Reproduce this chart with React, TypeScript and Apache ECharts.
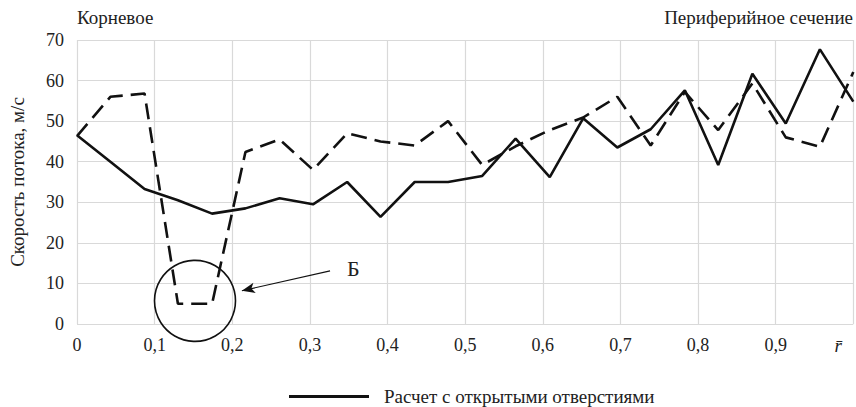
import React, { useEffect, useRef } from "react";
import * as echarts from "echarts";

const xPositions = [0, 0.043, 0.087, 0.13, 0.174, 0.217, 0.261, 0.304, 0.348, 0.391, 0.435, 0.478, 0.522, 0.565, 0.609, 0.652, 0.696, 0.739, 0.783, 0.826, 0.87, 0.913, 0.957, 1];
const openHoles = [46.5, 40, 33.3, 30.5, 27.2, 28.5, 31, 29.5, 35, 26.4, 35, 35, 36.5, 45.7, 36.2, 50.7, 43.5, 48, 57.6, 39.2, 61.7, 49.4, 67.7, 54.8];
const closedHoles = [46.3, 56, 56.8, 5, 5, 42.4, 45.5, 38, 47, 45, 44, 50, 39.2, 43.8, 47.8, 50.9, 56, 44, 57.2, 47.8, 59.3, 46, 43.7, 62.1];
const yTicks = [0, 10, 20, 30, 40, 50, 60, 70];
const openName = "Расчет с открытыми отверстиями";
const closedName = "Расчет с закрытыми отверстиями";
const rootLabel = "Корневое";
const tipLabel = "Периферийное сечение";
const yName = "Скорость потока, м/с";
const calloutLabel = "Б";
const calloutCircle = [0.152, 5.7];
const arrowFrom = [0.326, 13.1];
const arrowTo = [0.2124, 8.2];
const calloutText = [0.356, 13.7];

const FONT = "Times New Roman";

export default function App() {
  const ref = useRef<HTMLDivElement>(null);
  useEffect(() => {
    if (!ref.current) return;
    const chart = echarts.init(ref.current, undefined, { renderer: "svg" });
    const pairs = (vals: number[]) => xPositions.map((x, i) => [x, vals[i]]);
    chart.setOption({
      animation: false,
      textStyle: { fontFamily: FONT, color: "#222" },
      grid: { left: 76.7, right: 2.7, top: 40, bottom: 83 },
      legend: {
        data: [{ name: openName, icon: "rect" }],
        left: 284,
        top: 382,
        itemWidth: 80,
        itemHeight: 3,
        textStyle: { fontFamily: FONT, fontSize: 19, color: "#222", padding: [0, 0, 0, 10] },
      },
      xAxis: {
        type: "value",
        min: 0,
        max: 1,
        interval: 0.1,
        axisLine: { show: false },
        axisTick: { show: false },
        splitLine: { show: true, lineStyle: { color: "#d9d9d9", width: 1.2 } },
        axisLabel: {
          margin: 12,
          fontSize: 18,
          fontFamily: FONT,
          color: "#222",
          formatter: (v: number) => {
            if (v > 0.999) return "{r|r\u0304}";
            if (v === 0) return "0";
            return v.toFixed(1).replace(".", ",");
          },
          rich: {
            r: { fontStyle: "italic", fontSize: 19, fontFamily: FONT, color: "#222", padding: [0, 30, 0, 0] },
          },
        },
      },
      yAxis: {
        type: "value",
        min: yTicks[0],
        max: yTicks[yTicks.length - 1],
        interval: 10,
        name: yName,
        nameLocation: "middle",
        nameGap: 50,
        nameTextStyle: { fontFamily: FONT, fontSize: 19, color: "#222" },
        axisLine: { show: false },
        axisTick: { show: false },
        splitLine: { show: true, lineStyle: { color: "#d9d9d9", width: 1.2 } },
        axisLabel: { margin: 13, fontSize: 18, fontFamily: FONT, color: "#222" },
      },
      graphic: [
        { type: "text", left: 77, top: 8, style: { text: rootLabel, fontFamily: FONT, fontSize: 19, fill: "#222" } },
        { type: "text", right: 3, top: 8, style: { text: tipLabel, fontFamily: FONT, fontSize: 19, fill: "#222" } },
      ],
      series: [
        {
          name: openName,
          type: "line",
          data: pairs(openHoles),
          symbol: "none",
          lineStyle: { color: "#111", width: 2.6, type: "solid" },
          itemStyle: { color: "#111" },
          z: 3,
          markPoint: {
            silent: true,
            data: [
              {
                coord: calloutCircle,
                symbol: "circle",
                symbolSize: 81,
                itemStyle: { color: "rgba(0,0,0,0)", borderColor: "#111", borderWidth: 1.6 },
                label: { show: false },
              },
              {
                coord: calloutText,
                symbol: "circle",
                symbolSize: 0,
                label: { show: true, position: "inside", formatter: calloutLabel, fontFamily: FONT, fontSize: 22, color: "#222" },
              },
            ],
          },
          markLine: {
            silent: true,
            animation: false,
            data: [
              [
                { coord: arrowFrom, symbol: "none" },
                { coord: arrowTo, symbol: "arrow", symbolSize: [8, 13] },
              ],
            ],
            lineStyle: { color: "#111", width: 1.2, type: "solid" },
            label: { show: false },
          },
        },
        {
          name: closedName,
          type: "line",
          data: pairs(closedHoles),
          symbol: "none",
          lineStyle: { color: "#111", width: 2.6, type: [16, 8] },
          itemStyle: { color: "#111" },
          z: 2,
        },
      ],
    });
    return () => chart.dispose();
  }, []);
  return <div ref={ref} style={{ width: 856, height: 407, position: "absolute", left: 0, top: 0 }} />;
}
